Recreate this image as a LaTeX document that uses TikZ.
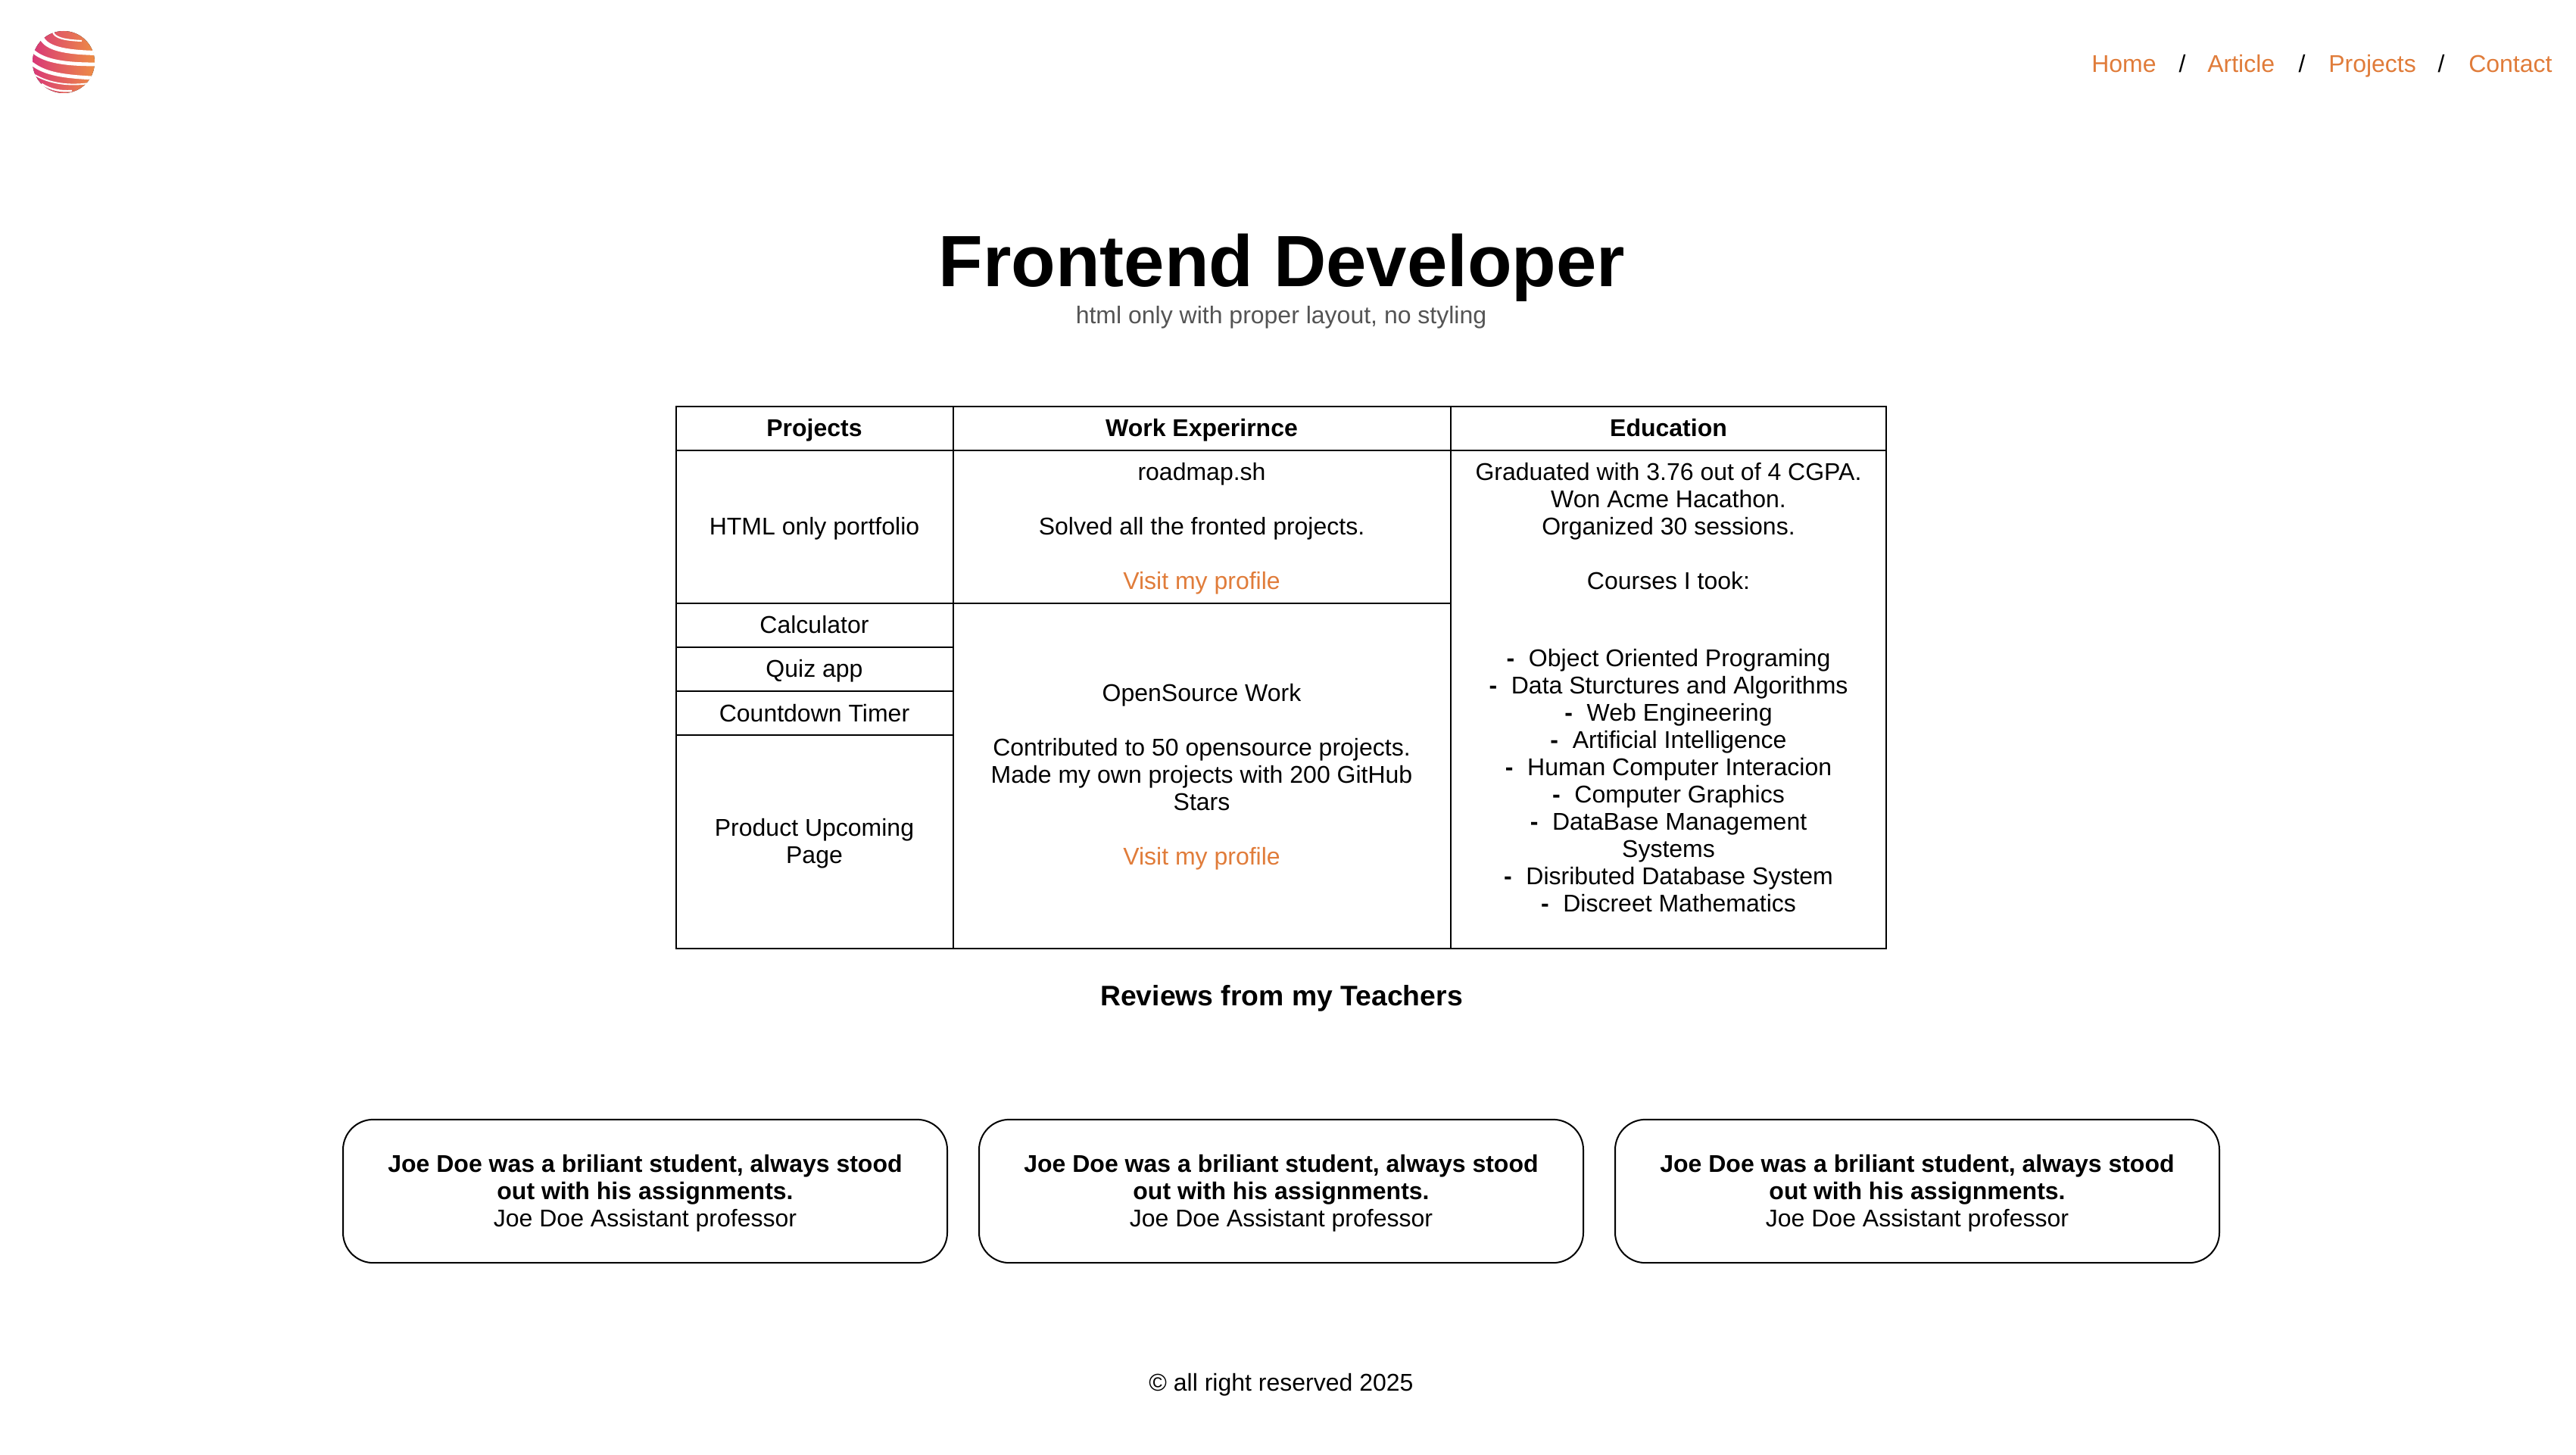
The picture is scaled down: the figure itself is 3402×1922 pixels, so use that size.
\documentclass[tikz,border=0pt]{standalone}
\usepackage{fontspec}
\setmainfont{Liberation Sans}
\usepackage{xcolor}
\definecolor{linkorange}{rgb}{0.878,0.486,0.227}
\definecolor{subgray}{rgb}{0.33,0.33,0.33}
\definecolor{logopink}{rgb}{0.85,0.22,0.47}
\definecolor{logoorange}{rgb}{0.93,0.55,0.27}
\newcommand{\cardlift}{\rule{0pt}{22pt}}
\tikzset{
  bodytext/.style={inner sep=0pt,align=center,font=\fontsize{24}{27}\selectfont},
  celltext/.style={bodytext,anchor=base},
  headtext/.style={celltext,font=\fontsize{24}{27}\selectfont\bfseries},
  linktext/.style={bodytext,text=linkorange,anchor=base west},
  slashtext/.style={bodytext,anchor=base},
  tablerule/.style={line width=1.5pt},
  reviewcard/.style={bodytext,draw,line width=1.5pt,rounded corners=30pt,minimum width=598.5pt,minimum height=142pt}
}
\begin{document}
\begin{tikzpicture}[x=0.75pt,y=0.75pt,yscale=-1,xscale=1]
\useasboundingbox (0,0) rectangle (3402,1922);
%Logo
\fill [left color=logopink,right color=logoorange] (84,82) circle (41);
\begin{scope}
\clip (84,82) circle (41.5);
\draw [white,line width=1.6pt] (70,42) .. controls (72,50) and (85,53) .. (108,54);
\draw [white,line width=4.5pt] (55,50) .. controls (62,64) and (85,69) .. (127,70);
\draw [white,line width=3.6pt] (44,68) .. controls (60,82) and (90,85) .. (127,85);
\draw [white,line width=3.6pt] (42,84) .. controls (60,98) and (85,101) .. (122,103);
\draw [white,line width=1.4pt] (46,99) .. controls (65,110) and (90,114) .. (118,110);
\draw [white,line width=1.8pt] (55,111) .. controls (68,119) and (80,121) .. (95,120);
\end{scope}
% Text Node
\node [linktext] (navhome) at (2762,96) {Home};
\node [slashtext] (navslasha) at (2882,96) {/};
\node [linktext] (navarticle) at (2915,96) {Article};
\node [slashtext] (navslashb) at (3040,96) {/};
\node [linktext] (navprojects) at (3075,96) {Projects};
\node [slashtext] (navslashc) at (3224,96) {/};
\node [linktext] (navcontact) at (3260,96) {Contact};
% Text Node
\node [inner sep=0pt,font=\fontsize{72}{80}\selectfont\bfseries] (title) at (1693,353.5) {Frontend Developer};
\node [bodytext,text=subgray] (subtitle) at (1692,419.5) {html only with proper layout, no styling};
%Straight Lines
\draw [tablerule] (892.5,537) rectangle (2491,1252.5);
\draw [tablerule] (892.5,595) -- (2491,595);
\draw [tablerule] (1258.5,537) -- (1258.5,1252.5);
\draw [tablerule] (1916,537) -- (1916,1252.5);
\draw [tablerule] (892.5,796.5) -- (1916,796.5);
\draw [tablerule] (892.5,854.5) -- (1258.5,854.5);
\draw [tablerule] (892.5,913) -- (1258.5,913);
\draw [tablerule] (892.5,971) -- (1258.5,971);
% Text Node
\node [headtext] (headprojects) at (1075.5,576) {Projects};
\node [headtext] (headwork) at (1587,576) {Work Experirnce};
\node [headtext] (headedu) at (2203.5,576) {Education};
% Text Node
\node [bodytext] (htmlonly) at (1075.5,698) {HTML only portfolio};
\node [celltext] (calculator) at (1075.5,836) {Calculator};
\node [celltext] (quizapp) at (1075.5,894.5) {Quiz app};
\node [celltext] (countdown) at (1075.5,953) {Countdown Timer};
\node [bodytext] (upcoming) at (1075.5,1114) {Product Upcoming\\Page};
% Text Node
\node [bodytext] (roadmap) at (1587,698) {roadmap.sh\\[27pt]Solved all the fronted projects.\\[27pt]\textcolor{linkorange}{Visit my profile}};
\node [bodytext] (opensource) at (1587,1026) {OpenSource Work\\[27pt]Contributed to 50 opensource projects.\\Made my own projects with 200 GitHub\\Stars\\[27pt]\textcolor{linkorange}{Visit my profile}};
% Text Node
\node [bodytext] (edutop) at (2203.5,695) {Graduated with 3.76 out of 4 CGPA.\\Won Acme Hacathon.\\Organized 30 sessions.\\[27pt]Courses I took:};
\node [bodytext] (edulist) at (2203.5,1031) {\textbf{-}\hspace{14pt}Object Oriented Programing\\\textbf{-}\hspace{14pt}Data Sturctures and Algorithms\\\textbf{-}\hspace{14pt}Web Engineering\\\textbf{-}\hspace{14pt}Artificial Intelligence\\\textbf{-}\hspace{14pt}Human Computer Interacion\\\textbf{-}\hspace{14pt}Computer Graphics\\\textbf{-}\hspace{14pt}DataBase Management\\Systems\\\textbf{-}\hspace{14pt}Disributed Database System\\\textbf{-}\hspace{14pt}Discreet Mathematics};
% Text Node
\node [inner sep=0pt,font=\fontsize{28}{32}\selectfont\bfseries] (reviews) at (1692.5,1319) {Reviews from my Teachers};
% Rounded Rect
\node [reviewcard] (cardone) at (852,1573.5) {\cardlift\textbf{Joe Doe was a briliant student, always stood}\\\textbf{out with his assignments.}\\Joe Doe Assistant professor};
\node [reviewcard] (cardtwo) at (1692,1573.5) {\cardlift\textbf{Joe Doe was a briliant student, always stood}\\\textbf{out with his assignments.}\\Joe Doe Assistant professor};
\node [reviewcard] (cardthree) at (2532,1573.5) {\cardlift\textbf{Joe Doe was a briliant student, always stood}\\\textbf{out with his assignments.}\\Joe Doe Assistant professor};
% Text Node
\node [bodytext] (footer) at (1692,1829.5) {© all right reserved 2025};
\end{tikzpicture}
\end{document}
